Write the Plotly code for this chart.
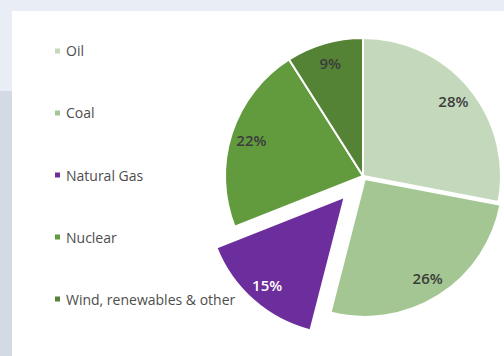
import math
import plotly.graph_objects as go

# Share of primary energy supply by source (%)
labels = ["Oil", "Coal", "Natural Gas", "Nuclear", "Wind, renewables & other"]
shares = [28, 26, 15, 22, 9]
colors = ["#c4d9bc", "#a3c692", "#6c2e9c", "#629a3e", "#548335"]
label_colors = ["#3c3c3c", "#3c3c3c", "#ffffff", "#3c3c3c", "#3c3c3c"]
pulls = [0.0, 0.025, 0.2, 0.0, 0.0]

W, H = 504, 356
CX, CY, R = 363, 176, 138  # pie centre and radius in pixels

fig = go.Figure()

total = sum(shares)
cum = 0.0
for i, (lab, v) in enumerate(zip(labels, shares)):
    # Each slice is drawn in its own trace so that exploded slices keep the full radius
    theta = 2 * math.pi * (cum + v / 2) / total
    cum += v
    sx = CX + pulls[i] * R * math.sin(theta)
    sy = CY - pulls[i] * R * math.cos(theta)
    dom = dict(x=[(sx - R) / W, (sx + R) / W], y=[1 - (sy + R) / H, 1 - (sy - R) / H])
    clear = ["rgba(0,0,0,0)"] * len(labels)
    slice_colors = [c if j == i else "rgba(0,0,0,0)" for j, c in enumerate(colors)]
    line_w = [2 if j == i else 0 for j in range(len(labels))]
    texts = [f"{s}%" if j == i else "" for j, s in enumerate(shares)]
    common = dict(labels=labels, values=shares, sort=False, direction="clockwise",
                  rotation=0, domain=dom, hoverinfo="skip", showlegend=False)
    # filled slice
    fig.add_trace(go.Pie(
        **common,
        marker=dict(colors=slice_colors, line=dict(color="#ffffff", width=line_w)),
        textinfo="none",
    ))
    # percentage label, set in the outer ring of the slice
    fig.add_trace(go.Pie(
        **common,
        hole=0.7,
        marker=dict(colors=clear, line=dict(width=0)),
        text=texts,
        textinfo="text",
        textposition="inside",
        insidetextorientation="horizontal",
        textfont=dict(family="Open Sans", size=15, color=label_colors, weight=600),
    ))

shapes = [
    # page header band and side strip
    dict(type="rect", xref="paper", yref="paper", x0=0, x1=1, y0=1 - 11 / H, y1=1,
         fillcolor="#e9edf5", line_width=0, layer="below"),
    dict(type="rect", xref="paper", yref="paper", x0=0, x1=12 / W, y0=1 - 91 / H, y1=1 - 11 / H,
         fillcolor="#e9edf5", line_width=0, layer="below"),
    dict(type="rect", xref="paper", yref="paper", x0=0, x1=12 / W, y0=0, y1=1 - 91 / H,
         fillcolor="#d3dae3", line_width=0, layer="below"),
]

# Legend: small square swatch plus label per source
annotations = []
leg_top, leg_step = 51, 62
for i, lab in enumerate(labels):
    yc = leg_top + i * leg_step
    shapes.append(dict(type="rect", xref="paper", yref="paper",
                       x0=55 / W, x1=60 / W, y0=1 - (yc + 2.5) / H, y1=1 - (yc - 2.5) / H,
                       fillcolor=colors[i], line_width=0))
    annotations.append(dict(text=lab, xref="paper", yref="paper", x=64 / W, y=1 - yc / H,
                            xanchor="left", yanchor="middle", showarrow=False,
                            font=dict(family="Open Sans", size=14, color="#4d4d4d")))

fig.update_layout(
    width=W, height=H,
    margin=dict(l=0, r=0, t=0, b=0),
    paper_bgcolor="#ffffff",
    plot_bgcolor="#ffffff",
    shapes=shapes,
    annotations=annotations,
)

fig.write_html("out.html")
